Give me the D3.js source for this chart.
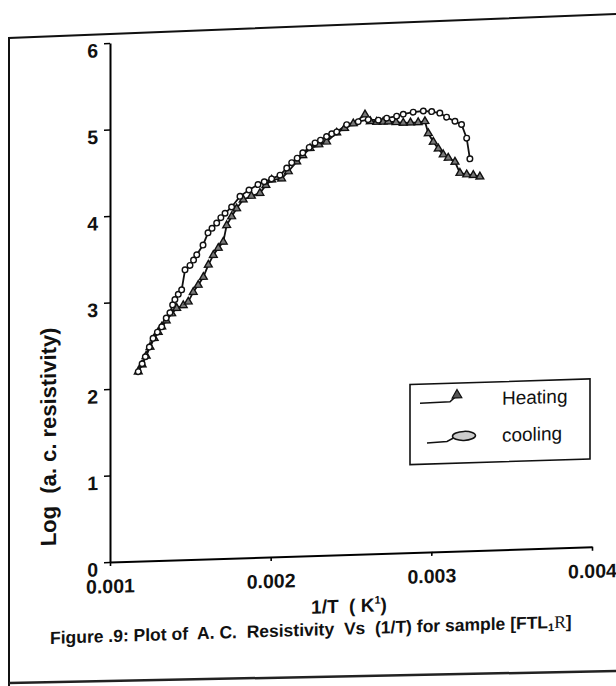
<!DOCTYPE html>
<html>
<head>
<meta charset="utf-8">
<script src="https://cdn.jsdelivr.net/npm/d3@7"></script>
<style>
    body { margin: 0; background: #fff; }
    svg { display: block; font-family: "Liberation Sans", Arial, sans-serif; }
    text { white-space: pre; }
</style>
</head>
<body>
<svg id="chart" width="616" height="686"></svg>
<script>
// 1/T values (K^-1) and log resistivity
var heatX = [0.001176, 0.00120, 0.001225, 0.001249, 0.001275, 0.00130, 0.001322, 0.00135, 0.001384, 0.001415,
    0.001456, 0.001487, 0.001518, 0.001549, 0.001581, 0.001612, 0.001643, 0.001674, 0.001705, 0.001726,
    0.001757, 0.001788, 0.001829, 0.00188, 0.001933, 0.00197, 0.002006, 0.002068, 0.00211, 0.002162,
    0.00220, 0.002245, 0.00230, 0.002348, 0.002411, 0.00246, 0.002514, 0.002587, 0.00262, 0.00266,
    0.00270, 0.002732, 0.00278, 0.002825, 0.00287, 0.002918, 0.00296, 0.002981, 0.003012, 0.003043,
    0.003074, 0.003105, 0.003147, 0.003178, 0.00322, 0.003261, 0.003302];
var heatY = [2.19, 2.27, 2.37, 2.47, 2.57, 2.64, 2.70, 2.77, 2.85, 2.91,
    2.94, 2.98, 3.09, 3.17, 3.26, 3.40, 3.51, 3.59, 3.66, 3.85,
    3.95, 4.04, 4.14, 4.18, 4.21, 4.30, 4.36, 4.37, 4.45, 4.56,
    4.63, 4.71, 4.75, 4.78, 4.88, 4.93, 4.98, 5.08, 5.00, 4.99,
    4.99, 4.99, 4.98, 4.97, 4.97, 4.97, 4.98, 4.84, 4.74, 4.66,
    4.59, 4.55, 4.50, 4.37, 4.35, 4.34, 4.32];

var coolX = [0.001176, 0.00120, 0.00122, 0.001245, 0.001268, 0.001295, 0.001322, 0.00135, 0.001373, 0.00139,
    0.001404, 0.001425, 0.001446, 0.001467, 0.001498, 0.00152, 0.00154, 0.001579, 0.00161, 0.001635,
    0.001664, 0.00169, 0.001716, 0.001757, 0.001809, 0.001865, 0.001921, 0.00196, 0.002006, 0.002058,
    0.00210, 0.002131, 0.002165, 0.00220, 0.00224, 0.002276, 0.00231, 0.002348, 0.00238, 0.002411,
    0.002473, 0.002545, 0.002607, 0.00267, 0.002722, 0.002784, 0.002825, 0.002887, 0.00295, 0.003002,
    0.003053, 0.003095, 0.003147, 0.003188, 0.00322, 0.00324];
var coolY = [2.19, 2.28, 2.36, 2.47, 2.57, 2.64, 2.70, 2.80, 2.86, 2.95,
    3.01, 3.07, 3.12, 3.35, 3.40, 3.46, 3.52, 3.63, 3.77, 3.82,
    3.88, 3.94, 3.99, 4.06, 4.18, 4.25, 4.31, 4.34, 4.37, 4.41,
    4.49, 4.55, 4.60, 4.66, 4.72, 4.77, 4.80, 4.84, 4.87, 4.89,
    4.97, 5.00, 5.02, 5.01, 5.03, 5.05, 5.07, 5.09, 5.10, 5.09,
    5.07, 5.02, 4.97, 4.93, 4.77, 4.53];

var yTicks = [0, 1, 2, 3, 4, 5, 6];
var xTicks = [0.001, 0.002, 0.003, 0.004];
var xTickLabels = ['0.001', '0.002', '0.003', '0.004'];

var svg = d3.select('#chart');
svg.append('rect').attr('width', 616).attr('height', 686).attr('fill', '#fff');

// the scan's page border
svg.append('path')
    .attr('d', 'M9,686 L9,38 L616,14')
    .attr('fill', 'none').attr('stroke', '#111').attr('stroke-width', 2);
svg.append('path')
    .attr('d', 'M9,683 L616,671')
    .attr('fill', 'none').attr('stroke', '#222').attr('stroke-width', 2.5);

// the whole figure is slightly sheared in the scan
var originX = 110;
var g = svg.append('g')
    .attr('transform', 'translate(' + originX + ',0) skewY(-1.8) translate(' + (-originX) + ',0)');

var x = d3.scaleLinear().domain([0.001, 0.004]).range([110, 592]);
var y = d3.scaleLinear().domain([0, 6]).range([562, 43]);

var yAxis = g.append('g')
    .attr('transform', 'translate(110,0)')
    .call(d3.axisLeft(y).tickValues(yTicks).tickSize(6).tickSizeOuter(0).tickFormat(d3.format('d')));
yAxis.select('.domain').attr('stroke-width', 2);
yAxis.selectAll('.tick line').attr('stroke-width', 1.6);
yAxis.selectAll('.tick text')
    .attr('x', -12).attr('dy', '0.7em')
    .attr('font-size', 19.5).attr('font-weight', 'bold').attr('fill', '#111')
    .attr('font-family', '"Liberation Sans", Arial, sans-serif');

var xAxis = g.append('g')
    .attr('transform', 'translate(0,562)')
    .call(d3.axisBottom(x).tickValues(xTicks).tickSize(4).tickSizeOuter(0)
        .tickFormat(function(d, i) { return xTickLabels[i]; }));
xAxis.select('.domain').attr('stroke-width', 2);
xAxis.selectAll('.tick line').attr('stroke-width', 1.6);
xAxis.selectAll('.tick text')
    .attr('y', 31).attr('dy', 0)
    .attr('font-size', 19.5).attr('font-weight', 'bold').attr('fill', '#111')
    .attr('font-family', '"Liberation Sans", Arial, sans-serif');

// axis titles and caption
g.append('text')
    .attr('transform', 'translate(56,435) rotate(-90)')
    .attr('text-anchor', 'middle')
    .attr('font-size', 22).attr('font-weight', 'bold').attr('fill', '#111')
    .text('Log  (a. c. resistivity)');

var xt = g.append('text')
    .attr('x', 349).attr('y', 620)
    .attr('text-anchor', 'middle')
    .attr('font-size', 19).attr('font-weight', 'bold').attr('fill', '#111');
xt.append('tspan').text('1/T  ( K');
xt.append('tspan').attr('font-size', 11).attr('dy', -8).text('1');
xt.append('tspan').attr('dy', 8).text(')');

var cap = g.append('text')
    .attr('x', 50).attr('y', 642)
    .attr('font-size', 17.5).attr('font-weight', 'bold').attr('fill', '#111');
cap.append('tspan').text('Figure .9: Plot of  A. C.  Resistivity  Vs  (1/T) for sample [FTL');
cap.append('tspan').attr('font-size', 11).attr('dy', 3).text('1');
cap.append('tspan').attr('dy', -3).attr('font-family', '"Liberation Serif", serif').attr('font-weight', 'normal').text('R');
cap.append('tspan').text(']');

// series
var heating = heatX.map(function(v, i) { return {x: v, y: heatY[i]}; });
var cooling = coolX.map(function(v, i) { return {x: v, y: coolY[i]}; });

var line = d3.line()
    .x(function(d) { return x(d.x); })
    .y(function(d) { return y(d.y); });

g.append('path').datum(cooling)
    .attr('d', line).attr('fill', 'none').attr('stroke', '#111').attr('stroke-width', 1.8);
g.append('path').datum(heating)
    .attr('d', line).attr('fill', 'none').attr('stroke', '#111').attr('stroke-width', 1.8);

var tri = d3.symbol().type(d3.symbolTriangle).size(26);

g.selectAll('.heat-pt')
    .data(heating)
    .enter().append('path')
    .attr('class', 'heat-pt')
    .attr('d', tri)
    .attr('transform', function(d) { return 'translate(' + x(d.x) + ',' + y(d.y) + ')'; })
    .attr('fill', '#777').attr('stroke', '#111').attr('stroke-width', 1.4);

g.selectAll('.cool-pt')
    .data(cooling)
    .enter().append('circle')
    .attr('class', 'cool-pt')
    .attr('cx', function(d) { return x(d.x); })
    .attr('cy', function(d) { return y(d.y); })
    .attr('r', 2.8)
    .attr('fill', '#fff').attr('stroke', '#111').attr('stroke-width', 1.4);

// legend
var legend = g.append('g');
legend.append('rect')
    .attr('x', 410).attr('y', 394).attr('width', 180).attr('height', 80)
    .attr('fill', '#fff').attr('stroke', '#111').attr('stroke-width', 1.6);
legend.append('path')
    .attr('d', 'M420,413 L450,412.5 L455,408')
    .attr('fill', 'none').attr('stroke', '#111').attr('stroke-width', 1.5);
legend.append('path')
    .attr('d', d3.symbol().type(d3.symbolTriangle).size(40))
    .attr('transform', 'translate(457,406)')
    .attr('fill', '#555').attr('stroke', '#111').attr('stroke-width', 1.2);
legend.append('text')
    .attr('x', 502).attr('y', 417)
    .attr('font-size', 19).attr('fill', '#111')
    .text('Heating');
legend.append('path')
    .attr('d', 'M427,453 L447,452 L453,449')
    .attr('fill', 'none').attr('stroke', '#111').attr('stroke-width', 1.5);
legend.append('ellipse')
    .attr('cx', 464).attr('cy', 447).attr('rx', 11.5).attr('ry', 4.5)
    .attr('fill', '#ccc').attr('stroke', '#111').attr('stroke-width', 1.5);
legend.append('text')
    .attr('x', 502).attr('y', 454)
    .attr('font-size', 19).attr('fill', '#111')
    .text('cooling');
</script>
</body>
</html>
